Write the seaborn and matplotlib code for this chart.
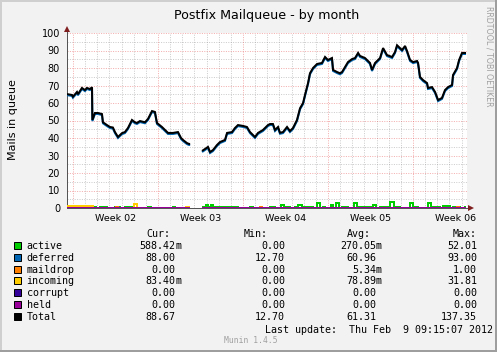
import matplotlib
matplotlib.use("Agg")
import matplotlib.pyplot as plt
import numpy as np
import pandas as pd
import seaborn as sns
from matplotlib.patches import Rectangle

# ---------------- data (x = days since Monday of week 02) ----------------
x_seg1 = [-0.49, -0.08, 0.00, 0.33, 0.41, 0.74, 0.99, 1.15, 1.40, 1.57, 1.60, 1.81, 2.06, 2.39,
          2.47, 2.80, 3.05, 3.29, 3.46, 3.71, 4.04, 4.28, 4.53, 4.86, 5.11, 5.27, 5.52, 5.93,
          6.18, 6.51, 6.75, 6.92, 7.33, 7.58, 7.83, 8.24, 8.65, 8.90, 9.06, 9.39, 9.56, 9.65]
total_seg1 = [65.1, 64.6, 63.6, 66.3, 65.0, 68.6, 67.4, 68.6, 68.0, 69.0, 50.3, 54.3, 54.3, 53.7,
              49.0, 47.4, 46.3, 46.0, 43.4, 40.6, 42.8, 43.4, 45.7, 50.3, 49.0, 48.6, 49.7, 49.0,
              50.9, 55.4, 54.9, 48.6, 46.3, 44.6, 42.9, 42.9, 43.4, 40.0, 38.9, 37.1, 36.6, 36.6]
deferred_seg1 = [64.5, 64.0, 63.0, 65.7, 64.4, 68.0, 66.8, 68.0, 67.4, 68.4, 49.7, 53.7, 53.7, 53.1,
                 48.4, 46.8, 45.7, 45.4, 42.8, 40.0, 42.2, 42.8, 45.1, 49.7, 48.4, 48.0, 49.1, 48.4,
                 50.3, 54.8, 54.3, 48.0, 45.7, 44.0, 42.3, 42.3, 42.8, 39.4, 38.3, 36.5, 36.0, 36.0]

x_seg2 = [10.63, 10.87, 11.12, 11.29, 11.53, 11.86, 12.11, 12.52, 12.69, 13.10,
          13.34, 13.59, 14.00, 14.33, 14.58, 14.99, 15.24, 15.65, 16.06, 16.23,
          16.47, 16.64, 16.89, 17.05, 17.30, 17.63, 17.87, 18.12, 18.45, 18.70,
          18.95, 19.11, 19.36, 19.52, 19.77, 20.10, 20.51, 20.76, 21.00, 21.33,
          21.42, 21.75, 21.99, 22.16, 22.41, 22.65, 22.98, 23.23, 23.48, 23.64,
          24.05, 24.30, 24.46, 24.63, 24.88, 25.29, 25.54, 25.86, 26.28, 26.52,
          26.69, 26.93, 27.10, 27.35, 27.51, 27.76, 28.01, 28.34, 28.42, 28.58,
          28.83, 29.16, 29.24, 29.57, 29.82, 30.07, 30.39, 30.64, 30.89, 31.22,
          31.30, 31.63, 31.80, 32.04, 32.29, 32.37]
total_seg2 = [32.6, 33.7, 34.9, 32.0, 33.1, 36.0, 37.7, 38.9, 42.9, 43.4,
              45.7, 47.4, 46.9, 46.3, 43.4, 40.6, 42.9, 44.6, 47.4, 48.0,
              48.0, 44.6, 46.3, 43.0, 43.4, 46.3, 44.0, 45.7, 50.3, 57.0,
              60.0, 64.6, 71.4, 77.0, 80.0, 82.3, 82.9, 86.3, 84.6, 85.7,
              78.9, 77.7, 77.0, 77.7, 80.6, 83.4, 85.1, 85.7, 88.6, 86.9,
              85.7, 84.0, 82.9, 78.9, 82.9, 85.7, 91.4, 87.4, 86.3, 89.1,
              93.0, 91.4, 90.3, 92.6, 89.7, 84.6, 83.4, 84.0, 82.9, 74.9,
              73.1, 71.4, 68.6, 69.1, 66.3, 61.7, 62.9, 67.4, 69.1, 70.3,
              76.0, 80.0, 84.6, 88.6, 88.6, 88.6]
deferred_seg2 = [32.0, 33.1, 34.3, 31.4, 32.5, 35.4, 37.1, 38.3, 42.3, 42.8,
                 45.1, 46.8, 46.3, 45.7, 42.8, 40.0, 42.3, 44.0, 46.8, 47.4,
                 47.4, 44.0, 45.7, 42.4, 42.8, 45.7, 43.4, 45.1, 49.7, 56.4,
                 59.4, 64.0, 70.8, 76.4, 79.4, 81.7, 82.3, 85.7, 84.0, 85.1,
                 78.3, 77.1, 76.4, 77.1, 80.0, 82.8, 84.5, 85.1, 88.0, 86.3,
                 85.1, 83.4, 82.3, 78.3, 82.3, 85.1, 90.8, 86.8, 85.7, 88.5,
                 92.4, 90.8, 89.7, 92.0, 89.1, 84.0, 82.8, 83.4, 82.3, 74.3,
                 72.5, 70.8, 68.0, 68.5, 65.7, 61.1, 62.3, 66.8, 68.5, 69.7,
                 75.4, 79.4, 84.0, 88.0, 88.0, 88.0]

active_x = [-0.49, 1.65, 1.89, 2.22, 2.80, 3.46, 3.87, 4.28, 4.86, 6.18, 6.43, 8.24, 8.40, 9.65,
            10.63, 10.96, 11.12, 11.37, 11.53, 12.27, 12.52, 13.34, 13.59, 14.58, 14.83, 16.23,
            16.64, 17.13, 17.38, 17.71, 17.87, 18.29, 18.53, 18.86, 19.77, 20.10, 20.35, 20.59,
            20.76, 21.25, 21.42, 21.66, 21.91, 22.16, 22.65, 23.15, 23.39, 24.71, 24.96, 25.29,
            25.95, 26.11, 26.44, 26.93, 27.76, 28.01, 28.17, 28.42, 29.24, 29.49, 29.65, 30.23,
            30.48, 31.05, 31.30, 31.88, 32.29, 32.37]
active_v = [0.0, 0.5, 0.0, 0.6, 0.0, 0.5, 0.0, 0.5, 0.0, 0.5, 0.0, 0.5, 0.0, 0.0,
            0.6, 1.5, 0.6, 1.5, 0.6, 0.8, 0.4, 0.6, 0.2, 0.5, 0.2, 0.5,
            0.2, 2.0, 0.5, 0.6, 0.2, 0.6, 1.6, 0.5, 0.2, 2.9, 0.2, 0.5,
            0.2, 1.5, 0.2, 2.9, 0.2, 0.5, 0.2, 2.9, 0.5, 1.8, 0.2, 0.5,
            0.2, 3.6, 0.5, 0.2, 2.9, 0.2, 0.5, 0.2, 2.9, 0.2, 0.5, 0.2,
            1.2, 0.2, 0.5, 0.2, 0.6, 0.6]

maildrop_x = [-0.49, 3.54, 3.70, 9.32, 9.56, 9.65, 10.63, 15.40, 15.60, 31.60, 31.80, 32.37]
maildrop_v = [0.0, 0.5, 0.0, 0.6, 0.0, 0.0, 0.0, 0.6, 0.0, 0.6, 0.0, 0.0]

incoming_x = [-0.49, 1.65, 5.02, 5.27, 9.32, 9.65, 10.63, 32.29, 32.37]
incoming_v = [1.0, 0.0, 2.2, 0.0, 0.5, 0.5, 0.0, 0.08, 0.08]

corrupt_x = [-0.49, 9.65, 10.63, 32.37]
corrupt_v = [0.0, 0.0, 0.0, 0.0]
held_x = [-0.49, 9.65, 10.63, 32.37]
held_v = [0.0, 0.0, 0.0, 0.0]

week_pos = [3.5, 10.5, 17.5, 24.5, 31.5]
week_labels = ["Week 02", "Week 03", "Week 04", "Week 05", "Week 06"]

legend_names = ["active", "deferred", "maildrop", "incoming", "corrupt", "held", "Total"]
legend_colors = ["#00CC00", "#0066B3", "#FF8000", "#FFCC00", "#330099", "#990099", "#000000"]
cur_vals = ["588.42m", "88.00", "0.00", "83.40m", "0.00", "0.00", "88.67"]
min_vals = ["0.00", "12.70", "0.00", "0.00", "0.00", "0.00", "12.70"]
avg_vals = ["270.05m", "60.96", "5.34m", "78.89m", "0.00", "0.00", "61.31"]
max_vals = ["52.01", "93.00", "1.00", "31.81", "0.00", "0.00", "137.35"]

# ---------------- style ----------------
BG = "#F2F2F2"
SHADEA = "#CFCFCF"
SHADEB = "#9E9E9E"
GRID = (0.56, 0.56, 0.56, 0.45)
MGRID = (0.90, 0.30, 0.30, 0.45)
ARROW = (0.5, 0.12, 0.12)
AXIS = "#555555"

plt.rcParams["font.family"] = ["DejaVu Sans"]
W, H = 497, 352
fig = plt.figure(figsize=(W / 100, H / 100), dpi=100, facecolor=BG)


def fx(px):
    return px / W


def fy(py):
    return 1 - py / H


ax = fig.add_axes([fx(67), fy(208), 400 / W, 175 / H])
ax.set_facecolor("white")
XMIN, XMAX = -0.49, 32.45
ax.set_xlim(XMIN, XMAX)
ax.set_ylim(0, 100)

# grid
dot = (0, (1, 1.4))
for d in range(0, 33):
    if d % 7:
        ax.axvline(d, color=GRID, lw=0.72, ls=dot, zorder=0.5)
for v in range(5, 100, 10):
    ax.axhline(v, color=GRID, lw=0.72, ls=dot, zorder=0.5)
for d in range(0, 33, 7):
    ax.axvline(d, color=MGRID, lw=0.72, ls=dot, zorder=0.6)
for v in range(10, 101, 10):
    ax.axhline(v, color=MGRID, lw=0.72, ls=dot, zorder=0.6)

LW = 1.44


def seg_frame(xs, vs, gap=10.0):
    df = pd.DataFrame({"x": xs, "v": vs})
    df["seg"] = (df["x"] > gap).astype(int)
    return df


def draw(xs, vs, color, z, style="steps-post"):
    df = seg_frame(xs, vs)
    sns.lineplot(data=df, x="x", y="v", units="seg", estimator=None, color=color,
                 lw=LW, drawstyle=style, legend=False, ax=ax, zorder=z,
                 solid_joinstyle="miter", solid_capstyle="butt")


draw(active_x, active_v, legend_colors[0], 2)
draw(x_seg1 + x_seg2, deferred_seg1 + deferred_seg2, legend_colors[1], 3, "default")
draw(maildrop_x, maildrop_v, legend_colors[2], 4)
draw(incoming_x, incoming_v, legend_colors[3], 5)
draw(corrupt_x, corrupt_v, legend_colors[4], 6)
draw(held_x, held_v, legend_colors[5], 7)
draw(x_seg1 + x_seg2, total_seg1 + total_seg2, legend_colors[6], 8, "default")

# axes
for s in ["top", "right"]:
    ax.spines[s].set_visible(False)
for s in ["left", "bottom"]:
    ax.spines[s].set_color(AXIS)
    ax.spines[s].set_linewidth(0.72)
    ax.spines[s].set_zorder(1)
ax.plot([XMIN, XMIN], [100, 102.5], color=AXIS, lw=0.72, clip_on=False, zorder=1)
ax.plot([XMAX, 32.6], [0, 0], color=AXIS, lw=0.72, clip_on=False, zorder=1)
ax.plot([XMIN], [102.3], marker="^", color=ARROW, ms=4.2, mew=0, clip_on=False, zorder=9)
ax.plot([32.75], [0], marker=">", color=ARROW, ms=4.2, mew=0, clip_on=False, zorder=9)

ax.set_yticks(range(0, 101, 10))
ax.set_yticklabels([str(v) for v in range(0, 101, 10)])
ax.set_xticks(week_pos)
ax.set_xticklabels(week_labels)
ax.tick_params(axis="y", length=0, pad=5, labelsize=7)
ax.tick_params(axis="x", length=0, pad=4, labelsize=6.8)
ax.set_xlabel("")
ax.set_ylabel("")

# texts
fig.text(fx(267), fy(18.5), "Postfix Mailqueue - by month", ha="center", va="baseline",
         fontsize=9.1)
fig.text(fx(13), fy(120), "Mails in queue", rotation=90, ha="center", va="center", fontsize=8)
fig.text(fx(489), fy(56), "RRDTOOL / TOBI OETIKER", rotation=270, ha="center", va="center",
         fontsize=5.7, color="#A0A0A0")

MONO = "DejaVu Sans Mono"
FS = 7.2
head_base = 236.6
fig.text(fx(146), fy(head_base), "Cur:", family=MONO, fontsize=FS, va="baseline")
fig.text(fx(244), fy(head_base), "Min:", family=MONO, fontsize=FS, va="baseline")
fig.text(fx(347), fy(head_base), "Avg:", family=MONO, fontsize=FS, va="baseline")
fig.text(fx(453), fy(head_base), "Max:", family=MONO, fontsize=FS, va="baseline")


def val(xr, y, s):
    if s.endswith("m"):
        fig.text(fx(xr), fy(y), s[:-1], family=MONO, fontsize=FS, va="baseline", ha="right")
        fig.text(fx(xr), fy(y), "m", family=MONO, fontsize=FS, va="baseline", ha="left")
    else:
        fig.text(fx(xr), fy(y), s, family=MONO, fontsize=FS, va="baseline", ha="right")


for i, name in enumerate(legend_names):
    cy = 245.2 + 11.93 * i
    fig.patches.append(Rectangle((fx(13.5), fy(cy + 3.5)), 7 / W, 7 / H,
                                 facecolor=legend_colors[i], edgecolor="black", lw=0.72,
                                 transform=fig.transFigure, figure=fig))
    base = cy + 3.5
    fig.text(fx(26.5), fy(base), name, family=MONO, fontsize=FS, va="baseline")
    val(175, base, cur_vals[i])
    val(285, base, min_vals[i])
    val(376, base, avg_vals[i])
    val(477, base, max_vals[i])

fig.text(fx(493), fy(332.8), "Last update:  Thu Feb  9 09:15:07 2012", family=MONO,
         fontsize=FS, va="baseline", ha="right")
fig.text(fx(251), fy(343), "Munin 1.4.5", family=MONO, fontsize=5.8, va="baseline",
         ha="center", color="#A0A0A0")

# border
for rect, col in [((0, fy(2)), (1, 2 / H)), ((0, 0), (2 / W, 1))]:
    fig.patches.append(Rectangle(rect, col[0], col[1], facecolor=SHADEA, edgecolor="none",
                                 transform=fig.transFigure, figure=fig))
for rect, col in [((0, 0), (1, 2 / H)), ((1 - 2 / W, 0), (2 / W, 1))]:
    fig.patches.append(Rectangle(rect, col[0], col[1], facecolor=SHADEB, edgecolor="none",
                                 transform=fig.transFigure, figure=fig))

fig.savefig("out.png", dpi=100, facecolor=fig.get_facecolor())
